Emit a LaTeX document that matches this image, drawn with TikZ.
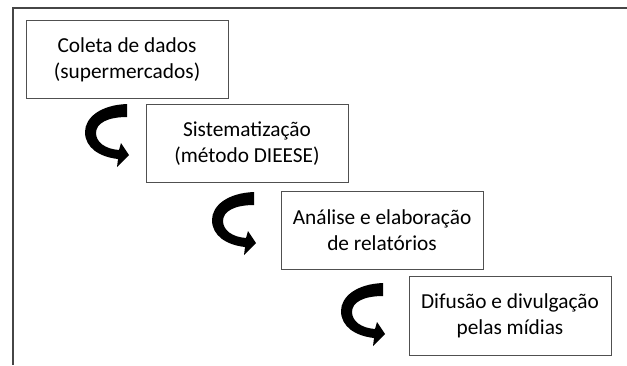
\documentclass[tikz,border=0pt]{standalone}
\usepackage{fontspec}
\setmainfont{Carlito}
\usepackage{tikz}

\tikzset{
  stepbox/.style={draw={rgb, 255:red, 80; green, 80; blue, 80}, line width=0.75pt, minimum width=151.5pt, minimum height=59pt, inner sep=0.75pt, align=center, font=\fontsize{16}{19.5}\selectfont},
  turnarrow/.style={fill=black, draw=none},
  frameline/.style={draw={rgb, 255:red, 70; green, 70; blue, 70}, line width=1.2pt}
}

\begin{document}
\begin{tikzpicture}[x=0.75pt,y=0.75pt,yscale=-1,xscale=1]
\useasboundingbox (0,0) rectangle (627,365);

%Frame
\draw [frameline] (627,8) -- (13,8) -- (13,365) ;

% Text Node
\node [stepbox] (coleta) at (127,59.5) {Coleta de dados\\(supermercados)};
% Text Node
\node [stepbox] (sistem) at (247,143.5) {Sistematização\\(método DIEESE)};
% Text Node
\node [stepbox] (analise) at (382,230.5) {Análise e elaboração\\de relatórios};
% Text Node
\node [stepbox] (difusao) at (510,316) {Difusão e divulgação\\pelas mídias};

%Shape: Curved Arrow
\begin{scope}
\path [turnarrow] (127,104) .. controls (100,105) and (85,118) .. (85,132) .. controls (85,148) and (100,157) .. (118,159) -- (117,167) -- (129,155) -- (121,143) -- (119,150) .. controls (105,149) and (96,142) .. (96,133) .. controls (96,123) and (108,117) .. (127,117) -- cycle ;
\end{scope}
%Shape: Curved Arrow
\begin{scope}[shift={(127,88)}]
\path [turnarrow] (127,104) .. controls (100,105) and (85,118) .. (85,132) .. controls (85,148) and (100,157) .. (118,159) -- (117,167) -- (129,155) -- (121,143) -- (119,150) .. controls (105,149) and (96,142) .. (96,133) .. controls (96,123) and (108,117) .. (127,117) -- cycle ;
\end{scope}
%Shape: Curved Arrow
\begin{scope}[shift={(256,179)}]
\path [turnarrow] (127,104) .. controls (100,105) and (85,118) .. (85,132) .. controls (85,148) and (100,157) .. (118,159) -- (117,167) -- (129,155) -- (121,143) -- (119,150) .. controls (105,149) and (96,142) .. (96,133) .. controls (96,123) and (108,117) .. (127,117) -- cycle ;
\end{scope}

\end{tikzpicture}
\end{document}
